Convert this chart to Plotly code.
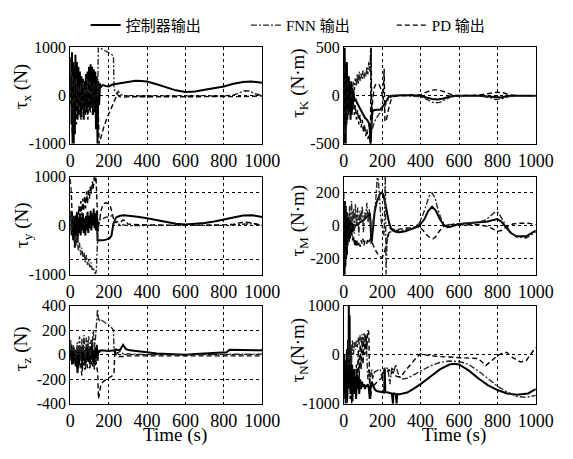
import plotly.graph_objects as go

W, H = 573, 459

# ---------------- data: time (s) and torque values ----------------
# tau_x (N)
tx_ctrl_t = [0,3,6,9,12,15,18,21,24,27,30,34,38,42,46,50,54,58,62,66,70,74,78,82,86,90,94,98,102,106,110,114,118,122,126,130,134,138,142,146,150,155,160,170,185,200,220,250,280,310,340,370,400,450,500,550,600,650,700,750,800,850,900,940,970,1000]
tx_ctrl = [150,800,-600,900,-1000,700,-1000,600,-800,850,-300,700,-500,600,-200,500,-450,400,-300,350,-500,300,-200,450,-350,500,-250,600,-300,650,-200,600,-400,550,-350,500,-700,400,-1000,300,-200,250,180,220,200,190,230,250,280,300,310,305,295,235,170,110,75,85,120,150,190,245,285,295,285,270]
tx_fnn_t = [0,4,8,12,16,20,25,30,36,42,48,54,60,66,72,78,84,90,96,102,108,114,120,126,132,138,143,146,160,180,200,215,225,228,235,242,250,260,280,320,400,500,600,700,800,850,880,910,935,960,1000]
tx_fnn = [0,500,-300,400,-500,300,-200,350,-300,200,-400,250,-250,300,-350,200,-300,350,-150,300,-250,200,-300,250,-150,100,0,1000,980,940,900,860,820,150,80,40,90,30,0,-10,-5,0,-10,-5,-10,10,60,100,95,40,5]
tx_pd_t = [0,5,10,15,20,26,32,38,44,50,56,62,68,74,80,86,92,98,104,110,116,122,128,134,140,146,150,160,175,190,205,220,235,245,255,270,300,400,500,600,700,800,900,1000]
tx_pd = [-200,400,-800,300,-500,200,-600,300,-400,100,-500,200,-450,150,-400,100,-500,250,-350,300,-400,200,-300,150,-500,-200,-1000,-850,-650,-480,-330,-180,-40,30,-20,-30,-25,-25,-25,-20,-25,-30,-20,-5]

# tau_K (N*m)
tk_ctrl_t = [0,2,4,6,8,10,12,14,16,18,20,23,26,29,32,35,38,41,44,47,50,55,60,70,80,90,100,110,120,130,135,140,145,150,160,175,190,200,210,222,235,250,270,300,350,400,430,460,490,520,550,600,700,760,790,820,850,900,1000]
tk_ctrl = [400,-500,500,-400,300,-500,200,-300,350,-250,150,-200,200,-150,100,-250,150,-200,80,-100,60,-60,-30,-80,-120,-160,-200,-230,-250,-280,-350,-500,-250,-160,-150,-150,-145,-120,-90,-40,-10,0,5,5,5,0,-20,-35,-40,-30,-10,0,0,-10,-20,-20,-5,0,0]
tk_fnn_t = [0,3,6,9,12,15,18,22,26,30,35,40,45,50,55,60,65,70,75,80,85,90,95,100,105,110,115,120,125,130,135,140,143,148,155,165,180,195,210,225,240,260,300,400,440,470,500,530,560,600,700,760,790,820,860,900,1000]
tk_fnn = [-200,300,-400,200,-300,150,-200,100,-100,50,-50,30,80,150,60,180,100,220,120,250,150,230,170,260,180,240,200,300,220,350,250,500,-200,-350,-300,-250,-200,-160,-130,-60,-20,0,0,-10,-50,-75,-70,-40,-10,0,0,-20,-40,-35,-10,0,0]
tk_pd_t = [0,3,6,9,12,15,18,22,26,30,35,40,45,50,55,60,66,72,78,84,90,96,102,108,114,120,126,132,138,142,146,150,158,166,175,185,195,205,210,214,222,232,245,260,300,400,440,470,490,510,540,570,600,700,750,790,830,860,900,1000]
tk_pd = [300,-300,250,-350,200,-150,100,-150,120,-80,50,-60,-150,-60,-200,-100,-250,-150,-300,-200,-330,-250,-380,-300,-420,-350,-450,-400,-500,500,-250,-50,80,115,125,110,60,-50,280,-270,-250,-150,-50,-10,0,10,45,60,60,50,30,5,0,5,20,35,30,10,0,0]

# tau_y (N)
ty_ctrl_t = [0,3,6,9,12,15,18,21,24,27,30,34,38,42,46,50,54,58,62,66,70,74,78,82,86,90,94,98,102,106,110,114,118,122,126,130,134,138,142,146,150,170,190,205,215,225,240,260,280,300,350,400,450,500,550,600,650,700,750,800,850,900,950,1000]
ty_ctrl = [100,300,-200,250,-100,200,-300,150,-450,200,-200,250,-350,150,-150,250,-200,180,-100,250,-150,150,-200,200,-100,280,-150,200,-50,300,-100,250,0,350,-50,250,-100,300,-300,-310,-300,-300,-280,-260,-200,50,170,200,210,205,180,150,110,70,40,25,35,55,85,120,170,205,210,175]
ty_fnn_t = [0,4,8,12,16,20,25,30,36,42,48,54,60,66,72,78,84,90,96,102,108,114,120,126,132,136,142,146,155,170,185,200,215,230,240,250,265,280,300,400,500,600,700,800,850,900,950,1000]
ty_fnn = [200,-100,300,-200,150,-300,-150,-400,-250,-500,-350,-600,-450,-650,-550,-750,-600,-800,-700,-850,-750,-900,-850,-950,-980,-900,-300,100,120,150,170,180,200,130,60,30,20,10,0,5,10,10,5,5,15,40,40,5]
ty_pd_t = [0,3,6,10,14,18,22,26,30,35,40,45,50,55,60,65,70,75,80,85,90,95,100,105,110,115,120,125,130,134,140,145,150,160,170,180,190,200,210,220,230,245,260,275,290,300,350,400,500,600,700,800,850,880,910,940,970,1000]
ty_pd = [950,800,600,200,-300,100,-200,200,-100,300,0,400,100,500,200,550,300,600,350,700,450,750,550,800,650,900,750,1000,900,1000,400,-100,50,300,430,460,460,440,380,200,60,80,60,120,90,30,20,15,10,5,10,15,30,55,70,60,30,5]

# tau_M (N*m)
tm_ctrl_t = [0,2,4,6,8,10,12,14,16,18,20,23,26,29,32,35,38,42,46,50,55,60,70,80,90,100,110,120,130,136,140,144,150,160,170,180,190,197,205,215,225,235,245,255,270,290,320,360,390,420,440,460,480,500,520,540,560,600,650,700,750,780,800,820,845,870,900,950,1000]
tm_ctrl = [-150,100,-300,150,-250,120,-200,80,-180,60,-120,50,-100,40,-80,30,-50,20,-40,10,-10,0,10,20,25,30,40,55,65,75,-100,-110,-40,80,140,175,198,202,190,140,75,20,-15,-30,-38,-40,-35,-20,-5,40,90,115,90,40,5,-10,-5,10,15,20,25,35,40,25,-10,-45,-65,-65,-30]
tm_fnn_t = [0,3,6,9,12,16,20,25,30,35,40,45,50,55,60,66,72,78,84,90,96,102,108,114,120,126,132,138,144,150,158,166,172,176,180,186,192,198,204,210,216,220,225,232,240,250,270,300,350,390,410,430,445,460,475,490,510,530,560,600,700,740,770,790,805,820,840,870,900,950,1000]
tm_fnn = [200,-250,150,-200,100,-150,80,-100,120,-60,150,20,100,-50,130,0,110,-60,90,30,120,-40,80,50,140,20,100,60,-50,0,60,150,260,320,280,150,60,0,-40,-60,320,-300,-80,-50,-40,-35,-30,-30,-20,10,60,130,180,200,170,100,30,0,10,10,20,35,65,85,80,50,10,-40,-70,-75,-40]
tm_pd_t = [0,3,6,9,12,15,18,22,26,30,35,40,45,50,55,60,65,70,75,80,85,90,95,100,105,110,115,120,125,130,135,140,145,150,160,170,180,190,200,210,220,230,240,250,270,300,350,390,410,430,450,465,480,500,520,550,600,700,750,780,800,820,850,880,920,960,1000]
tm_pd = [-300,150,-200,100,-150,80,-100,50,-80,30,-60,-20,-90,-60,-120,-80,-130,-90,-120,-100,-130,-90,-110,-80,-120,-90,-100,-110,-80,-100,-90,-60,-80,-110,-140,-160,-180,-190,-195,-170,-120,-60,-20,-20,-25,-20,-10,-5,-25,-55,-75,-80,-65,-30,-5,5,5,5,-5,-25,-35,-30,-5,10,15,15,5]

# tau_z (N)
tz_ctrl_t = [0,3,6,9,12,15,18,21,24,27,30,34,38,42,46,50,54,58,62,66,70,74,78,82,86,90,94,98,102,106,110,114,118,122,126,130,134,138,142,146,150,160,180,200,230,260,275,290,310,350,400,450,500,550,600,650,700,750,800,815,830,900,1000]
tz_ctrl = [120,-50,80,-80,50,-30,60,-60,30,-90,40,-60,-150,50,-80,70,-40,60,-100,80,-50,40,-90,60,-40,90,-60,50,-80,70,-40,100,-60,40,-90,60,-30,80,-50,40,20,35,30,30,35,40,80,45,35,30,20,10,5,0,0,5,10,15,20,20,40,40,35]
tz_fnn_t = [0,4,8,12,16,20,25,30,36,42,48,54,60,66,72,78,84,90,96,102,108,114,120,126,132,138,142,146,150,155,165,180,195,210,225,228,235,245,260,280,300,400,600,800,1000]
tz_fnn = [50,-20,60,0,80,-40,40,-60,100,0,150,-50,130,20,160,-30,140,60,150,-20,120,80,200,60,150,250,370,300,270,290,280,260,250,230,200,20,60,10,30,0,5,0,0,5,5]
tz_pd_t = [0,4,8,12,16,20,25,30,36,42,48,54,60,66,72,78,84,90,96,102,108,114,120,126,132,138,143,147,152,160,175,190,205,220,228,232,240,255,275,300,400,500,600,700,800,900,1000]
tz_pd = [-30,40,-60,30,-80,20,-50,-100,-20,-120,-60,-80,-170,-60,-110,-120,-40,-110,-90,-110,-50,-100,-60,-120,-30,-80,-150,-360,-300,-240,-215,-200,-185,-170,-150,40,-10,-15,-15,-10,-10,-10,-10,-5,-10,-10,-10]

# tau_N (N*m)
tn_ctrl_t = [0,2,4,6,8,10,12,14,16,18,20,22,24,26,28,30,33,36,39,42,45,48,51,54,57,60,64,68,72,76,80,85,90,95,100,105,110,115,120,125,130,135,140,145,150,160,170,180,190,200,210,213,216,230,240,250,256,258,262,270,275,278,285,300,330,360,400,450,500,550,575,600,650,700,750,800,850,900,930,960,1000]
tn_ctrl = [-300,-800,-100,-900,-400,-1000,-200,-700,100,-900,-300,300,-600,1000,-500,800,-700,200,-800,-200,-950,-400,-700,-300,-800,-500,-900,-400,-700,-450,-800,-500,-700,-550,-650,-600,-700,-620,-650,-600,-680,-900,-620,-550,-600,-700,-740,-750,-760,-760,-770,-280,-760,-770,-780,-790,-1000,-780,-790,-800,-1000,-790,-810,-800,-770,-700,-600,-450,-300,-200,-185,-200,-320,-480,-620,-720,-790,-815,-810,-790,-700]
tn_fnn_t = [0,4,8,12,16,20,25,30,35,40,45,50,55,60,65,70,75,80,85,90,95,100,105,110,115,120,125,130,135,140,145,150,160,175,190,200,210,220,230,240,250,260,270,280,290,300,330,360,400,450,500,550,600,650,700,750,800,850,900,950,1000]
tn_fnn = [-200,-600,-100,-500,100,-400,300,-300,200,-200,300,0,250,100,300,150,350,200,400,250,420,300,450,350,420,-200,-500,-300,-600,-400,-300,-500,-350,-320,-300,-500,-280,-250,-300,-600,-250,-350,-200,-350,-450,-500,-480,-420,-330,-230,-160,-130,-140,-200,-330,-480,-640,-760,-850,-870,-830]
tn_pd_t = [0,3,6,9,12,15,18,21,25,29,33,37,41,45,50,55,60,65,70,75,80,85,90,95,100,105,110,115,120,125,130,135,140,145,150,160,175,190,205,215,225,235,245,255,265,280,295,320,350,380,400,430,500,600,700,740,770,800,830,850,880,920,950,980,1000]
tn_pd = [-500,0,-900,-200,-800,100,-1000,-300,-700,-100,-900,-400,-1000,-200,-700,-300,-800,-200,-600,100,-500,200,-300,300,-200,350,0,400,100,500,450,-700,-900,-600,-650,-600,-550,-500,-450,-300,-350,-300,-400,-350,-420,-450,-450,-330,-180,-50,20,-10,-40,-60,-80,-220,-120,-20,40,45,-60,-150,-120,40,150]

time_ticks = [0, 200, 400, 600, 800, 1000]

# ---------------- layout geometry (pixels) ----------------
cols = [(68, 268), (353, 553)]
rows = [(41, 141), (175, 277), (309, 411)]

def xdom(c):
    return [cols[c][0] / W, cols[c][1] / W]

def ydom(r):
    return [1 - rows[r][1] / H, 1 - rows[r][0] / H]

serif = "Liberation Serif, Times New Roman, serif"
cjk = "Liberation Serif, Noto Sans CJK SC, sans-serif"

panels = [
    # (row, col, title, title centre y (px), range, tickvals, ticktext, series)
    (0, 0, "τ<sub>x</sub> (N)", 82, [-1000, 1000], [-1000, 0, 1000], ["-1000", "0", "1000"],
     [(tx_ctrl_t, tx_ctrl), (tx_fnn_t, tx_fnn), (tx_pd_t, tx_pd)]),
    (0, 1, "τ<sub>K</sub> (N·m)", 78, [-500, 500], [-500, 0, 500], ["-500", "0", "500"],
     [(tk_ctrl_t, tk_ctrl), (tk_fnn_t, tk_fnn), (tk_pd_t, tk_pd)]),
    (1, 0, "τ<sub>y</sub> (N)", 226, [-1000, 1000], [-1000, -680, 0, 680, 1000], ["-1000", " ", "0", " ", "1000"],
     [(ty_ctrl_t, ty_ctrl), (ty_fnn_t, ty_fnn), (ty_pd_t, ty_pd)]),
    (1, 1, "τ<sub>M</sub> (N·m)", 221, [-300, 300], [-200, 0, 200], ["-200", "0", "200"],
     [(tm_ctrl_t, tm_ctrl), (tm_fnn_t, tm_fnn), (tm_pd_t, tm_pd)]),
    (2, 0, "τ<sub>z</sub> (N)", 354, [-400, 400], [-400, -200, 0, 200, 400], ["-400", "-200", "0", "200", "400"],
     [(tz_ctrl_t, tz_ctrl), (tz_fnn_t, tz_fnn), (tz_pd_t, tz_pd)]),
    (2, 1, "τ<sub>N</sub>(N·m)", 355, [-1000, 1000], [-1000, 0, 1000], ["-1000", "0", "1000"],
     [(tn_ctrl_t, tn_ctrl), (tn_fnn_t, tn_fnn), (tn_pd_t, tn_pd)]),
]

series_names = ["控制器输出", "FNN 输出", "PD 输出"]
series_lines = [
    dict(color="black", width=2, dash="solid"),
    dict(color="#262626", width=1.4, dash="6px,2px,2px,2px"),
    dict(color="black", width=1.4, dash="5px,3px"),
]
legend_ids = ["legend", "legend2", "legend3"]

fig = go.Figure()
layout = dict(
    width=W, height=H, autosize=False,
    margin=dict(l=0, r=0, t=0, b=0),
    paper_bgcolor="white", plot_bgcolor="white",
    font=dict(family=serif, color="black", size=16),
    annotations=[],
)

title_x = {0: 18, 1: 306}
for i, (r, c, title, ty, yr, tv, tt, series) in enumerate(panels):
    n = i + 1
    xa = "x" if n == 1 else f"x{n}"
    ya = "y" if n == 1 else f"y{n}"
    for k, (ts, vs) in enumerate(series):
        fig.add_trace(go.Scatter(
            x=ts, y=vs, mode="lines", line=series_lines[k],
            name=series_names[k], legendgroup=series_names[k],
            showlegend=(i == 0), legend=legend_ids[k],
            xaxis=xa, yaxis=ya, hoverinfo="skip",
        ))
    axis_common = dict(
        showline=True, linecolor="black", linewidth=1, mirror=True,
        showgrid=True, gridcolor="black", gridwidth=1, griddash="3px,3px",
        zeroline=False, ticks="",
    )
    layout["xaxis" if n == 1 else f"xaxis{n}"] = dict(
        domain=xdom(c), range=[0, 1000], tickvals=time_ticks,
        ticktext=[str(v) for v in time_ticks],
        tickfont=dict(family=serif, size=18), ticklabelstandoff=1,
        anchor=ya, **axis_common,
    )
    layout["yaxis" if n == 1 else f"yaxis{n}"] = dict(
        domain=ydom(r), range=yr, tickvals=tv, ticktext=tt,
        tickfont=dict(family=serif, size=16),
        anchor=xa, **axis_common,
    )
    layout["annotations"].append(dict(
        text=title, textangle=-90, showarrow=False,
        xref="paper", yref="paper", x=title_x[c] / W, y=1 - ty / H,
        xanchor="center", yanchor="middle",
        font=dict(family=serif, size=19),
    ))

for cx in (177, 468):
    layout["annotations"].append(dict(
        text="Time (s)", showarrow=False, xref="paper", yref="paper",
        x=cx / W, y=1 - 443 / H, xanchor="center", yanchor="middle",
        font=dict(family=serif, size=19),
    ))

legend_x = [84, 251, 403]
for k, lid in enumerate(legend_ids):
    layout[lid] = dict(
        x=legend_x[k] / W, y=1 - 18 / H, xanchor="left", yanchor="middle",
        orientation="h", bgcolor="rgba(0,0,0,0)", borderwidth=0,
        font=dict(family=cjk, size=15, color="black"),
    )

fig.update_layout(**layout)
fig.write_html("out.html")
